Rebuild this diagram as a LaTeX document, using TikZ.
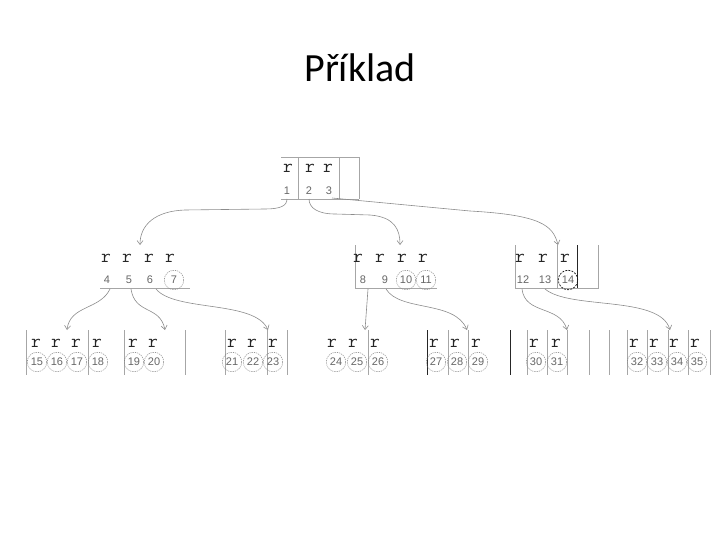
\documentclass[tikz,border=0pt]{standalone}
\usepackage{fontspec}
\usetikzlibrary{arrows.meta}
\newfontfamily\titlefont{Carlito}
\newfontfamily\numfont{Liberation Sans}
\begin{document}
\begin{tikzpicture}[x=1pt,y=-1pt,
  grid/.style={draw=black!35,line width=0.7pt},
  darkgrid/.style={draw=black!85,line width=0.8pt},
  key/.style={font=\ttfamily\fontsize{19}{19}\selectfont,text=black!85,inner sep=0pt},
  num/.style={font=\numfont\fontsize{11}{11}\selectfont,text=black!60,inner sep=0pt},
  cnum/.style={num,circle,draw=black!50,dash pattern=on 1.2pt off 1pt,minimum size=19.5pt,line width=0.5pt},
  dcnum/.style={num,circle,draw=black!90,dash pattern=on 2pt off 1.2pt,minimum size=19.5pt,line width=0.7pt},
  conn/.style={draw=black!45,line width=0.6pt,-{Straight Barb[length=4pt,width=6pt]}}]
\useasboundingbox (0,0) rectangle (720,540);
\node[font=\titlefont\fontsize{40}{40}\selectfont] (title) at (360,68) {Příklad};
% ---------- root ----------
\draw[grid] (281,157) -- (359,157) (281,199) -- (359,199);
\draw[grid] (298,157) -- (298,199) (339,157) -- (339,199) (359,157) -- (359,199);
\foreach \x/\n in {288/r1,310/r2,328/r3} \node[key] (\n) at (\x,168) {r};
\node[num] (n1) at (287,191) {1};
\node[num] (n2) at (309,191) {2};
\node[num] (n3) at (329,191) {3};
% ---------- level 1: node A ----------
\draw[grid] (100,288) -- (190,288);
\foreach \x/\n in {106/ar1,127/ar2,149/ar3,170/ar4} \node[key] (\n) at (\x,258) {r};
\node[num] (n4) at (107,280) {4};
\node[num] (n5) at (129,280) {5};
\node[num] (n6) at (150,280) {6};
\node[cnum] (n7) at (174,280) {7};
% ---------- level 1: node B ----------
\draw[grid] (355,245) -- (355,288) -- (437,288);
\foreach \x/\n in {358/br1,380/br2,402/br3,423/br4} \node[key] (\n) at (\x,258) {r};
\node[num] (n8) at (363,280) {8};
\node[num] (n9) at (385,280) {9};
\node[cnum] (n10) at (406,280) {10};
\node[cnum] (n11) at (426,280) {11};
% ---------- level 1: node C ----------
\draw[grid] (515,245) -- (515,288) -- (598,288) -- (598,245);
\draw[grid] (557,245) -- (557,288);
\draw[darkgrid] (577,245) -- (577,288);
\foreach \x/\n in {520/cr1,543/cr2,565/cr3} \node[key] (\n) at (\x,258) {r};
\node[num] (n12) at (523,280) {12};
\node[num] (n13) at (545,280) {13};
\node[dcnum] (n14) at (568,280) {14};
% ---------- leaves: vertical lines ----------
\foreach \x in {26,88,124,185,225,267,287,368,448,468,527,547,567,589,609,627,647,668,688,710}
  \draw[grid] (\x,330) -- (\x,375);
\draw[darkgrid] (427,330) -- (427,375);
\draw[darkgrid] (510,330) -- (510,375);
% ---------- leaves: keys ----------
\foreach \x in {36,56,76,97,133,153,232,252,273,332,353,375,434,455,476,534,556,634,654,674,695}
  \node[key] at (\x,343) {r};
\foreach \x/\t in {37/15,57/16,77/17,98/18,134/19,154/20,232/21,253/22,273/23,
                   336/24,357/25,378/26,436/27,457/28,478/29,536/30,557/31,
                   637/32,657/33,677/34,697/35}
  \node[cnum] (n\t) at (\x,362) {\t};
% ---------- connector ends ----------
\coordinate (sA) at (140,245);
\coordinate (sB) at (400,245);
\coordinate (sC) at (558,245);
\coordinate (l1) at (67,330);
\coordinate (l2) at (165,330);
\coordinate (l3) at (268,330);
\coordinate (l4) at (365,330);
\coordinate (l5) at (467,330);
\coordinate (l6) at (567,330);
\coordinate (l7) at (670,330);
\coordinate (p1) at (287,199);
\coordinate (p2) at (309,199);
\coordinate (p3) at (332,198);
\coordinate (pa1) at (110,289);
\coordinate (pa2) at (131,289);
\coordinate (pa3) at (156,289);
\coordinate (pb1) at (368,289);
\coordinate (pb2) at (386,289);
\coordinate (pc1) at (522,289);
\coordinate (pc2) at (545,289);
% ---------- connectors ----------
\draw[conn] (p1) .. controls (287,206) and (280,209) .. (265,209) -- (185,210) .. controls (155,211) and (140,225) .. (sA);
\draw[conn] (p2) .. controls (309,208) and (318,214) .. (335,214) -- (370,215) .. controls (395,217) and (400,230) .. (sB);
\draw[conn] (p3) -- (470,211) .. controls (540,215) and (553,225) .. (sC);
\draw[conn] (pa1) .. controls (100,310) and (70,305) .. (l1);
\draw[conn] (pa2) .. controls (135,315) and (160,305) .. (l2);
\draw[conn] (pa3) .. controls (175,312) and (255,300) .. (l3);
\draw[conn] (pb1) -- (l4);
\draw[conn] (pb2) .. controls (400,312) and (455,300) .. (l5);
\draw[conn] (pc1) .. controls (525,315) and (560,305) .. (l6);
\draw[conn] (pc2) .. controls (570,310) and (660,295) .. (l7);
\end{tikzpicture}
\end{document}
